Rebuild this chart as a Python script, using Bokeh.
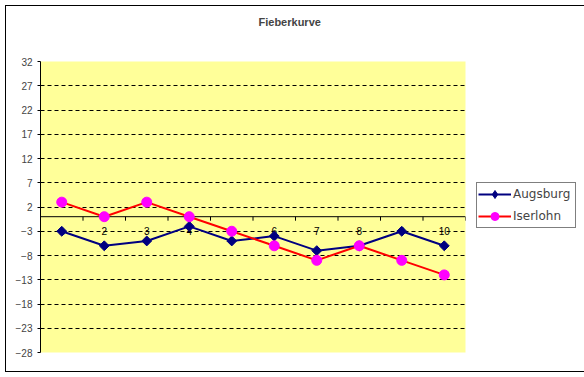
from bokeh.plotting import figure
from bokeh.models import Range1d, FixedTicker, Legend, LegendItem, Span, Title, InlineStyleSheet
from bokeh.core.properties import value
from bokeh.embed import file_html
from bokeh.resources import INLINE
import math

# ---- data ----
days = ["1", "2", "3", "4", "5", "6", "7", "8", "9", "10"]
augsburg = [-3, -6, -5, -2, -5, -4, -7, -6, -3, -6]
iserlohn = [3, 0, 3, 0, -3, -6, -9, -6, -9, -12]
y_ticks = [-28, -23, -18, -13, -8, -3, 2, 7, 12, 17, 22, 27, 32]
title_text = "Fieberkurve"

xs = list(range(1, len(days) + 1))
y_min, y_max = y_ticks[0], y_ticks[-1]
FRAME_H = 291

p = figure(frame_width=425, frame_height=FRAME_H, output_backend="svg", toolbar_location=None,
           x_range=Range1d(0.5, len(days) + 0.5),
           y_range=Range1d(y_min, y_max),
           x_axis_location=None,
           min_border_left=40, min_border_right=119,
           min_border_top=61, min_border_bottom=25,
           title=None)

p.stylesheets = [InlineStyleSheet(css=(
    ":host { position: relative; }"
    ":host::after { content: ''; position: absolute; left: 5px; top: 5px; right: 5px; bottom: 5px;"
    " border: 1px solid #000000; pointer-events: none; z-index: 100; }"
))]

p.background_fill_color = "#FFFF99"
p.border_fill_color = "#FFFFFF"
p.outline_line_color = None

# spacer title (closest to the frame) and the real title above it
p.add_layout(Title(text=" ", text_font_size="11px", standoff=20), "above")
p.add_layout(Title(text=title_text, align="left", offset=218, standoff=0,
                   text_font="Liberation Sans", text_font_size="11px",
                   text_font_style="bold"), "above")

# y axis
p.yaxis.ticker = FixedTicker(ticks=y_ticks)
p.yaxis.minor_tick_line_color = None
p.yaxis.major_tick_out = 3
p.yaxis.major_tick_in = 0
p.yaxis.major_label_standoff = 5
p.yaxis.major_label_text_font = "Liberation Sans"
p.yaxis.major_label_text_font_size = "10px"
p.yaxis.axis_line_color = "#000000"

# grid
p.xgrid.visible = False
p.ygrid.ticker = FixedTicker(ticks=y_ticks[1:-1])
p.ygrid.grid_line_color = "#000000"
p.ygrid.grid_line_dash = "4 3"
p.ygrid.grid_line_width = 1

# horizontal category axis crossing at zero
zero = Span(location=0, dimension="width", line_color="#000000", line_width=1, level="underlay")
p.add_layout(zero)
bounds = [x - 0.5 for x in xs] + [xs[-1] + 0.5]
tick_len = (y_max - y_min) * 4 / FRAME_H
p.segment(x0=bounds, y0=[0] * len(bounds), x1=bounds, y1=[-tick_len] * len(bounds),
          line_color="#000000", line_width=1)
p.text(x=xs, y=[0] * len(xs), text=days, text_align="center", text_baseline="top",
       y_offset=10, text_font=value("Liberation Sans"), text_font_size="10px",
       text_color="#000000")

# series
l1 = p.line(xs, augsburg, line_color="#000080", line_width=2)
m1 = p.scatter(xs, augsburg, marker="square", angle=math.pi / 4, size=7,
               fill_color="#000080", line_color="#000080")
l2 = p.line(xs, iserlohn, line_color="#FF0000", line_width=2)
m2 = p.scatter(xs, iserlohn, marker="circle", size=10,
               fill_color="#FF00FF", line_color="#FF00FF")

# legend key proxies (not visible in the plot area)
nan = float("nan")
k1 = p.scatter(x=[nan], y=[nan], marker="diamond", size=9,
               fill_color="#000080", line_color="#000080")
k2 = p.scatter(x=[nan], y=[nan], marker="circle", size=6,
               fill_color="#FF00FF", line_color="#FF00FF")

legend = Legend(items=[LegendItem(label="Augsburg", renderers=[l1, k1]),
                       LegendItem(label="Iserlohn", renderers=[l2, k2])],
                location=(11, 124))
legend.border_line_color = "#000000"
legend.border_line_width = 1
legend.background_fill_color = "#FFFFFF"
legend.background_fill_alpha = 1
legend.label_text_font = "DejaVu Sans"
legend.label_text_font_size = "12px"
legend.glyph_width = 33
legend.glyph_height = 20
legend.label_height = 20
legend.label_width = 61
legend.label_standoff = 2
legend.padding = 1
legend.spacing = 2
legend.margin = 0
p.add_layout(legend, "right")

open("out.html", "w").write(file_html(p, INLINE))
